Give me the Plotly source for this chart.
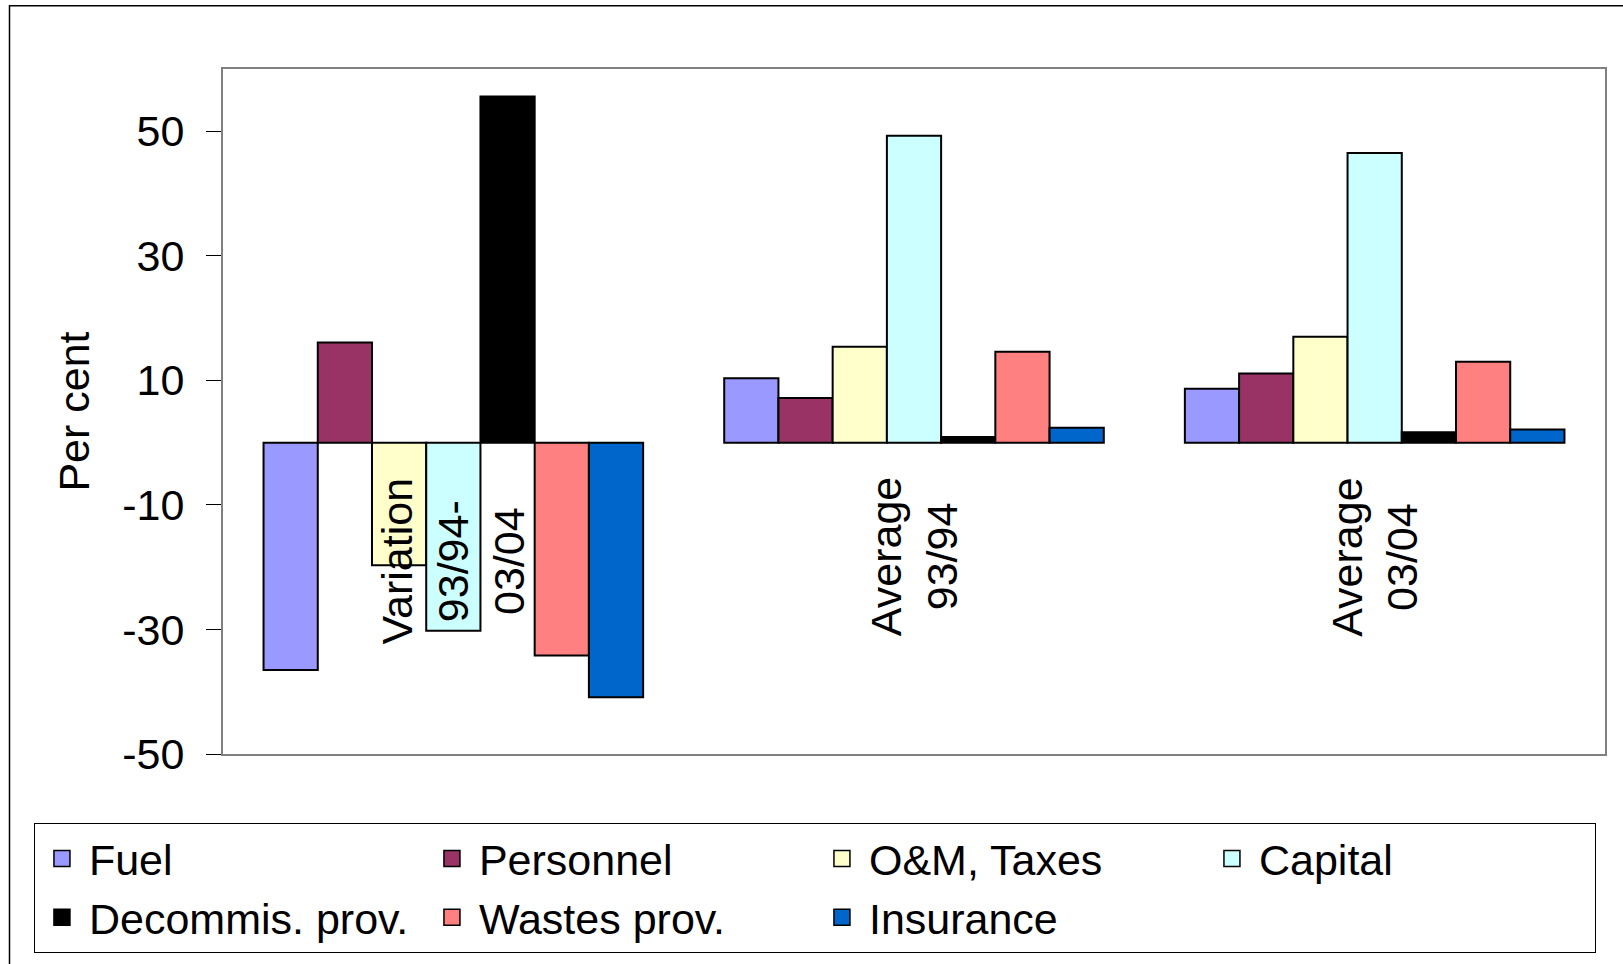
import plotly.graph_objects as go

# ---- data ----
categories = ["Variation 93/94-03/04", "Average 93/94", "Average 03/04"]
category_labels = ["Variation<br>93/94-<br>03/04", "Average<br>93/94", "Average<br>03/04"]

series_names = ["Fuel", "Personnel", "O&M, Taxes", "Capital",
                "Decommis. prov.", "Wastes prov.", "Insurance"]
fuel = [-36.5, 10.35, 8.65]
personnel = [16.1, 7.15, 11.1]
om_taxes = [-19.7, 15.4, 17.0]
capital = [-30.2, 49.3, 46.5]
decommis = [55.6, 0.9, 1.65]
wastes = [-34.2, 14.6, 13.0]
insurance = [-40.9, 2.4, 2.1]
series_values = [fuel, personnel, om_taxes, capital, decommis, wastes, insurance]
series_colors = ["#9999FF", "#993366", "#FFFFCC", "#CCFFFF", "#000000", "#FF8080", "#0066CC"]

y_range = [-50, 60]
y_ticks = [-50, -30, -10, 10, 30, 50]
y_tick_labels = ["-50", "-30", "-10", "10", "30", "50"]
y_title = "Per cent"

FONT = "Liberation Sans, Arial, sans-serif"

fig = go.Figure()
for name, vals, col in zip(series_names, series_values, series_colors):
    fig.add_trace(go.Bar(
        name=name, x=categories, y=vals, legendgroup=name, showlegend=False,
        marker=dict(color=col, line=dict(color="black", width=2)),
    ))
# legend keys (square swatches) for each series
for name, col in zip(series_names, series_colors):
    fig.add_trace(go.Scatter(
        name=name, x=[None], y=[None], mode="markers", legendgroup=name,
        marker=dict(symbol="square", size=16, color=col, line=dict(color="black", width=1.5)),
        hoverinfo="skip",
    ))

# position of the zero line in paper coords (for the category axis line)
zero_pos = (0 - y_range[0]) / (y_range[1] - y_range[0])

fig.update_layout(
    width=1623, height=964,
    margin=dict(l=223, r=18, t=69, b=210, autoexpand=False),
    paper_bgcolor="white", plot_bgcolor="white",
    font=dict(family=FONT, color="black"),
    barmode="group", bargap=0.176, bargroupgap=0,
    showlegend=True,
    legend=dict(
        orientation="h", x=-0.1368, xanchor="left", y=-0.1007, yanchor="top",
        font=dict(family=FONT, size=43, color="black"),
        bordercolor="black", borderwidth=1, bgcolor="white",
        itemwidth=44,
        entrywidth=331, entrywidthmode="pixels",
        traceorder="normal",
    ),
    xaxis=dict(
        type="category", categoryorder="array", categoryarray=categories,
        range=[-0.5, len(categories) - 0.5],
        showticklabels=False, ticks="", showgrid=False, zeroline=False,
        showline=True, linecolor="#808080", linewidth=2, mirror=True,
    ),
    xaxis2=dict(
        overlaying="x", anchor="free", position=zero_pos,
        range=[-0.5, len(categories) - 0.5],
        showticklabels=False, showgrid=False, zeroline=False,
        showline=True, linecolor="black", linewidth=1,
        tickmode="array", tickvals=[i - 0.5 for i in range(len(categories) + 1)],
        ticks="outside", ticklen=15, tickcolor="black", tickwidth=1,
    ),
    yaxis=dict(
        range=y_range, tickmode="array", tickvals=y_ticks, ticktext=y_tick_labels,
        ticks="outside", ticklen=15, tickcolor="black", tickwidth=1,
        tickfont=dict(family=FONT, size=43, color="black"),
        ticklabelstandoff=13,
        showgrid=False, zeroline=False,
        showline=True, linecolor="#808080", linewidth=2, mirror=True,
        title=dict(text=y_title, font=dict(family=FONT, size=43, color="black"), standoff=19),
    ),
)

# category labels, rotated, hanging under the zero line
for cat, lab in zip(categories, category_labels):
    fig.add_annotation(
        x=cat, y=0, xref="x", yref="y", text=lab, showarrow=False,
        textangle=-90, xanchor="center", yanchor="top", yshift=-33,
        align="center", font=dict(family=FONT, size=43, color="black"),
    )

# outer chart frame (left and top edges visible)
fig.add_shape(
    type="rect", xref="paper", yref="paper",
    x0=(9.5 - 223) / 1382, x1=(1640 - 223) / 1382,
    y0=(754 - 990) / 685.3, y1=(754 - 5.5) / 685.3,
    line=dict(color="black", width=1.5), fillcolor="rgba(0,0,0,0)", layer="below",
)

fig.write_html("out.html")
